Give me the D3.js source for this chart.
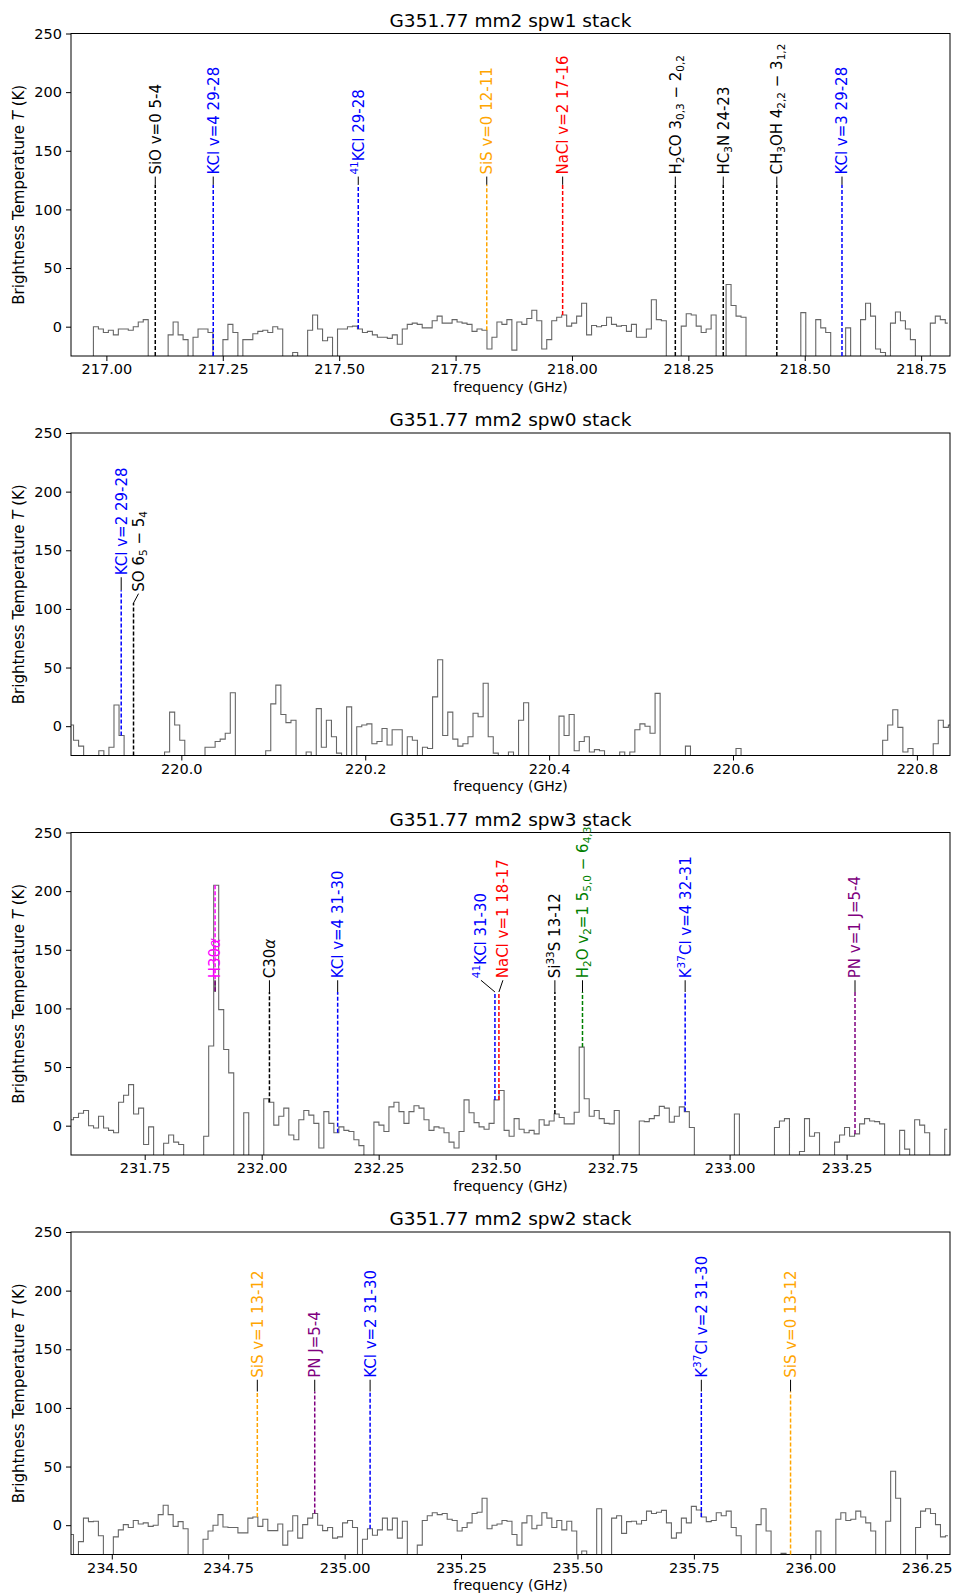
<!DOCTYPE html>
<html>
<head>
<meta charset="utf-8">
<script src="https://cdn.jsdelivr.net/npm/d3@7"></script>
<style>
  body { margin: 0; background: #fff; }
  svg text { font-family: "DejaVu Sans", sans-serif; }
</style>
</head>
<body>
<div id="chart"></div>
<script>
// stacked spectra of G351.77 mm2, one panel per spectral window
var titles = ['G351.77 mm2 spw1 stack', 'G351.77 mm2 spw0 stack', 'G351.77 mm2 spw3 stack', 'G351.77 mm2 spw2 stack'];
var freqRanges = [[216.924, 218.812], [219.880, 220.836], [231.5925, 233.471], [234.4124, 236.300]];
var chanWidths = [0.0107, 0.0055, 0.0107, 0.0107];

// brightness temperature per channel (K), channel 0 at the start of each range
var spw1 = [-40,-40,-40,-40,-40,
  0,-2,-5,-3,-7,-2,-2,-3,0,4,6,
  -40,-40,-40,-40,
  -7,4,-7,-11,-40,-9,-2,-2,-5,-40,-40,-11,2,-5,-40,
  -11,-11,-6,-4,-3,-5,0,-2,-40,-40,-22,-40,-40,
  -3,10,-2,-12,-9,-30,-2,-2,0,0.5,-2,
  -5,-4,-7,-9,-9,-10,-7,-15,
  -2,2,3,2,-1,-1,5,9,3,3,6,4,3,2,
  -4,-2,-3,-19,-9,4,2,6,
  -20,4,2,7,14,5,-19,-11,5,8,10,
  0.5,3,9,20,-7,1,0,1,8,2,
  0.5,1,-4,2,-9,-9,-2,23,6,5,
  -40,-40,-40,
  0.5,11,10,0.5,-5,-2,10,
  -40,-40,36,18,9,8,
  -40,-40,-40,-40,-40,-40,-40,-40,-40,-40,-40,
  12,-40,-40,6,-1,-5,-40,-40,-40,-1,-40,-40,
  6,20,9,-19,-22,-40,3,12.5,5,-2,-11,-40,-40,-40,3,9,6,3];

var spw0 = [1,-12,-17,-40,-40,-40,-21,-40,-18,18,-8,
  -40,-40,-40,-40,-40,-40,-40,-40,
  -22,12,1,-12,-40,-40,-40,-40,
  -18,-18,-13,-11,-6,28.5,
  -40,-40,-40,-40,-40,-40,
  -21,19,35,10,3,5,-30,-40,-22,-40,
  15,-18,5,-9,-23,-40,16.5,-40,
  -0.5,1,2,-15,-13,-2,-16,-3,-3,-40,-9,-12,-40,
  -18,-19,25,56.6,-8,12,-11,-17,-15,-9,11,8,36.6,-9,-23,
  -40,-40,-22,-40,5,20,
  -40,-40,-40,-40,-40,-40,
  8.6,-8,10,-21,-13,-9,-22,-20,-21,
  -40,-40,-40,-22,-40,-22,-3,2,0,-6,28,
  -40,-40,-40,-40,-40,-17,
  -40,-40,-40,-40,-40,-40,-40,-40,-40,-19,
  -40,-40,-40,-40,-40,-40,-40,-40,-40,-40,-40,-40,-40,-40,
  -40,-40,-40,-40,-40,-40,-40,-40,-40,-40,-40,-40,-40,-40,
  -12,1,14,-1,-22,-19,-40,-40,-40,-40,-15,5,-1,1];

var spw3 = [5,7,10.6,13,0,-2,8,-2,-4,-6,20,26,35,10,15,-16,-1,
  -40,-40,-15,-8,-14,-16,-40,-40,-40,-40,
  -9,68,205,99,65,45,-40,-40,11,-40,-40,-40,
  23,20,0.5,8,15,-8,-12,5,13,9,2,-19,12,2,-6,-1,-4,-5,-12,-17,
  -40,-40,
  3,0.5,-5,16,20,12,2,12,17,15,5,-4,-1,-2,-6,-14,-19,-5,22,11,2.6,-1,-3,2,22,30,-4,-9,
  6,-3,-6,-4,-7,5,0.5,4,10,7,1.5,1.5,11.4,67,23,8,13,6,2,1.5,13,
  -40,-40,-40,-40,
  4,3.5,6,8.6,16.5,15,3,8,16,12,-1.5,
  -40,-40,-40,-40,-40,-40,-40,-40,10,-40,-40,-40,-40,-40,-40,-40,
  -1.5,4,6,-40,-40,-22,6,-9,-6,-40,-40,-40,
  -14,-8,-1.5,-9,-7,1.5,6,4,3.5,1.5,
  -40,-40,-40,-4,-20,-40,5,0.5,-6,-40,-40,-40,-3];

var spw2 = [-8,-40,-14,6,3,3.4,-9,-30,-28,-10,-4,0.5,-2,4,1,2,-1,0,9,17,9,-1,3,-3,
  -40,-40,-40,
  -12,-5,0,9,-1.5,-2,-2,-6.6,-6.6,6,7,-1,5,-4.6,-4.6,1,-17,-5,8,-11,0.5,6,10,0,-4.6,-2,-11,-10,2,4,-2,
  -30,-12,-3,-8.6,-4,6,-4,6,-11,3.4,-40,-40,
  -17,4,8,10.6,9,10,5,4,-5,-2,2,10,11,23,-3,0,1,4,3.4,
  -8,-17,2,8,-3,0,10.6,6,-2,4,-4,3.4,-5,
  -40,-22,-40,-40,14,-40,-40,
  6,8,-7,3,3.4,1,4,12,10,11,12.6,2,-11,-6.6,6,2,16,13,7,3,4,10.6,8,12,-2,-9,
  -40,-40,-40,0.5,14,-5,-40,-40,-24,-40,-40,-40,-40,-40,-40,-5,-40,-40,-40,
  5,10.6,4,5,12,7,2,-5,-40,-40,3.4,46,23,-40,-40,-40,-2,12,14,10,0.5,-10,-9];

var xTicks1 = [217.00, 217.25, 217.50, 217.75, 218.00, 218.25, 218.50, 218.75];
var xTicks0 = [220.0, 220.2, 220.4, 220.6, 220.8];
var xTicks3 = [231.75, 232.00, 232.25, 232.50, 232.75, 233.00, 233.25];
var xTicks2 = [234.50, 234.75, 235.00, 235.25, 235.50, 235.75, 236.00, 236.25];
var yTicks = [0, 50, 100, 150, 200, 250];

// line identifications: rest-frame frequency (GHz), label, colour
var spw1LineFreqs = [217.105, 217.2295, 217.541, 217.817, 217.980, 218.222, 218.325, 218.440, 218.580];
var spw1LineLabels = ['SiO v=0 5-4', 'KCl v=4 29-28', '^{41}KCl 29-28', 'SiS v=0 12-11', 'NaCl v=2 17-16',
  'H_{2}CO 3_{0,3} \u2212 2_{0,2}', 'HC_{3}N 24-23', 'CH_{3}OH 4_{2,2} \u2212 3_{1,2}', 'KCl v=3 29-28'];
var spw1LineColors = ['black', 'blue', 'blue', 'orange', 'red', 'black', 'black', 'black', 'blue'];

var spw0LineFreqs = [219.9346, 219.948];
var spw0LineLabels = ['KCl v=2 29-28', 'SO 6_{5} \u2212 5_{4}'];
var spw0LineColors = ['blue', 'black'];

var spw3LineFreqs = [231.9004, 232.0166, 232.1624, 232.4985, 232.507, 232.6266, 232.6856, 232.905, 233.268];
var spw3LineLabels = ['H30α', 'C30α', 'KCl v=4 31-30', '^{41}KCl 31-30', 'NaCl v=1 18-17', 'Si^{33}S 13-12',
  'H_{2}O v_{2}=1 5_{5,0} \u2212 6_{4,3}', 'K^{37}Cl v=4 32-31', 'PN v=1 J=5-4'];
var spw3LineColors = ['magenta', 'black', 'blue', 'blue', 'red', 'black', 'green', 'blue', 'purple'];

var spw2LineFreqs = [234.8125, 234.9358, 235.0547, 235.766, 235.9576];
var spw2LineLabels = ['SiS v=1 13-12', 'PN J=5-4', 'KCl v=2 31-30', 'K^{37}Cl v=2 31-30', 'SiS v=0 13-12'];
var spw2LineColors = ['orange', 'purple', 'blue', 'blue', 'orange'];

var panels = [
  {values: spw1, ticks: xTicks1, fmt: '.2f', freqs: spw1LineFreqs, labels: spw1LineLabels, colors: spw1LineColors},
  {values: spw0, ticks: xTicks0, fmt: '.1f', freqs: spw0LineFreqs, labels: spw0LineLabels, colors: spw0LineColors},
  {values: spw3, ticks: xTicks3, fmt: '.2f', freqs: spw3LineFreqs, labels: spw3LineLabels, colors: spw3LineColors},
  {values: spw2, ticks: xTicks2, fmt: '.2f', freqs: spw2LineFreqs, labels: spw2LineLabels, colors: spw2LineColors}
];

// label placement: top of dashed marker and start of the text, in K
var markTop = [121, 114, 114, 114];
var textStart = [128, 124, 124, 124];
// per-line nudges [panel, line] -> {dx px, top K, text K}
var nudges = {
  '1-0': {top: 116, text: 127},
  '1-1': {dx: 5, top: 105, text: 113},
  '2-3': {dx: -14},
  '2-4': {dx: 4}
};

var colorMap = {black: '#000', blue: '#0000ff', orange: '#ffa500', red: '#ff0000',
  magenta: '#ff00ff', green: '#008000', purple: '#800080'};

var W = 953, H = 1594;
var plotLeft = 71, plotRight = 950, firstTop = 33.5, plotH = 322.5, panelStep = 399.5;

var svg = d3.select('#chart').append('svg')
    .attr('width', W)
    .attr('height', H)
    .style('background', '#fff');

function richLabel(sel, str) {
  var re = /([_^])\{([^}]*)\}|α|[^_^α]+/g;
  var m;
  while ((m = re.exec(str)) !== null) {
    if (m[1]) {
      sel.append('tspan')
        .attr('baseline-shift', m[1] === '_' ? '-3px' : '6px')
        .attr('font-size', '10.5px')
        .text(m[2]);
    } else if (m[0] === 'α') {
      sel.append('tspan').attr('font-style', 'italic').text('α');
    } else {
      sel.append('tspan').text(m[0]);
    }
  }
}

panels.forEach(function(p, i) {
  var top = firstTop + i * panelStep;
  var range = freqRanges[i];
  var width = chanWidths[i];
  var x = d3.scaleLinear().domain(range).range([plotLeft, plotRight]);
  var y = d3.scaleLinear().domain([-25, 250]).range([top + plotH, top]);

  var clipId = 'plotclip' + i;
  svg.append('clipPath').attr('id', clipId)
    .append('rect')
    .attr('x', plotLeft).attr('y', top)
    .attr('width', plotRight - plotLeft).attr('height', plotH);

  var g = svg.append('g');

  // spectrum as a mid-step line
  var chans = p.values.map(function(v, k) { return {f: range[0] + k * width, t: v}; });
  g.append('path')
    .datum(chans)
    .attr('clip-path', 'url(#' + clipId + ')')
    .attr('d', d3.line()
      .x(function(d) { return x(d.f); })
      .y(function(d) { return y(d.t); })
      .curve(d3.curveStep))
    .attr('fill', 'none')
    .attr('stroke', '#666')
    .attr('stroke-width', 1.1);

  // axes
  var xAxis = g.append('g')
    .attr('transform', 'translate(0,' + (top + plotH) + ')')
    .call(d3.axisBottom(x).tickValues(p.ticks).tickFormat(d3.format(p.fmt)).tickSize(5).tickPadding(3));
  var yAxis = g.append('g')
    .attr('transform', 'translate(' + plotLeft + ',0)')
    .call(d3.axisLeft(y).tickValues(yTicks).tickSize(5).tickPadding(4));
  [xAxis, yAxis].forEach(function(a) {
    a.select('.domain').remove();
    a.selectAll('text').attr('font-size', '14.5px').attr('fill', '#000')
      .style('font-family', '"DejaVu Sans", sans-serif');
    a.selectAll('line').attr('stroke', '#000');
  });

  g.append('rect')
    .attr('x', plotLeft).attr('y', top)
    .attr('width', plotRight - plotLeft).attr('height', plotH)
    .attr('fill', 'none').attr('stroke', '#000').attr('stroke-width', 1);

  // line markers and labels
  p.freqs.forEach(function(f, j) {
    var n = nudges[i + '-' + j] || {};
    var dx = n.dx || 0;
    var tTop = n.top !== undefined ? n.top : markTop[i];
    var tText = n.text !== undefined ? n.text : textStart[i];
    var col = colorMap[p.colors[j]];
    var idx = Math.round((f - range[0]) / width);
    var tb = Math.max(p.values[idx], -25);
    var lx = x(f);

    g.append('line')
      .attr('x1', lx).attr('x2', lx)
      .attr('y1', y(tb)).attr('y2', y(tTop))
      .attr('stroke', col)
      .attr('stroke-width', 1.5)
      .attr('stroke-dasharray', '4,2');

    g.append('line')
      .attr('x1', lx).attr('y1', y(tTop))
      .attr('x2', lx + dx).attr('y2', y(tText))
      .attr('stroke', '#000')
      .attr('stroke-width', 1);

    var tx = lx + dx, ty = y(tText) - 2;
    var t = g.append('text')
      .attr('transform', 'translate(' + tx + ',' + ty + ') rotate(-90)')
      .attr('dy', '0.36em')
      .attr('font-size', '15px')
      .attr('fill', col);
    richLabel(t, p.labels[j]);
  });

  // titles
  svg.append('text')
    .attr('x', (plotLeft + plotRight) / 2)
    .attr('y', top - 7)
    .attr('text-anchor', 'middle')
    .attr('font-size', '18.5px')
    .text(titles[i]);

  svg.append('text')
    .attr('x', (plotLeft + plotRight) / 2)
    .attr('y', top + plotH + 35.5)
    .attr('text-anchor', 'middle')
    .attr('font-size', '14px')
    .text('frequency (GHz)');

  var yl = svg.append('text')
    .attr('transform', 'translate(24,' + (top + plotH / 2) + ') rotate(-90)')
    .attr('text-anchor', 'middle')
    .attr('font-size', '15px');
  yl.append('tspan').text('Brightness Temperature ');
  yl.append('tspan').attr('font-style', 'italic').text('T');
  yl.append('tspan').text(' (K)');
});
</script>
</body>
</html>
